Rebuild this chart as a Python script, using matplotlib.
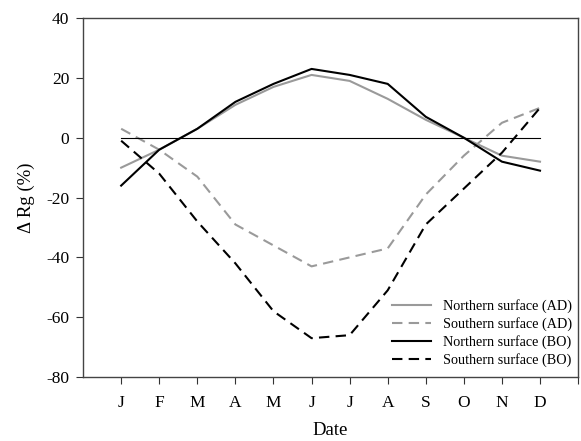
import numpy as np
import matplotlib.pyplot as plt

plt.rcParams['font.family'] = ['Liberation Serif', 'DejaVu Serif']
plt.rcParams['axes.unicode_minus'] = False

months = ['J', 'F', 'M', 'A', 'M', 'J', 'J', 'A', 'S', 'O', 'N', 'D']
north_ad = [-10, -4, 3, 11, 17, 21, 19, 13, 6, 0, -6, -8]
south_ad = [3, -4, -13, -29, -36, -43, -40, -37, -19, -6, 5, 10]
north_bo = [-16, -4, 3, 12, 18, 23, 21, 18, 7, 0, -8, -11]
south_bo = [-1, -12, -28, -42, -58, -67, -66, -51, -29, -17, -5, 10]

x = np.arange(1, 13)

fig = plt.figure(figsize=(5.81, 4.41), dpi=100)
ax = fig.add_axes([0.143, 0.145, 0.852, 0.814])

gray = '#9a9a9a'
ax.plot(x, north_ad, color=gray, lw=1.5, label='Northern surface (AD)')
ax.plot(x, south_ad, color=gray, lw=1.5, ls=(0, (5, 3)), label='Southern surface (AD)')
ax.plot(x, north_bo, color='black', lw=1.5, label='Northern surface (BO)')
ax.plot(x, south_bo, color='black', lw=1.5, ls=(0, (5, 3)), label='Southern surface (BO)')
ax.plot([1, 12], [0, 0], color='black', lw=0.8)

ax.set_xlim(0, 13)
ax.set_ylim(-80, 40)
ax.set_xticks(list(x) + [13])
ax.set_xticklabels(months + [''])
ax.set_yticks(np.arange(-80, 41, 20))
ax.tick_params(direction='out', length=5, labelsize=12.5, colors='#333333', labelcolor='black')
ax.tick_params(axis='x', pad=8)
ax.tick_params(axis='y', pad=5)
for s in ax.spines.values():
    s.set_color('#444444')
    s.set_linewidth(1.0)

ax.set_xlabel('Date', fontsize=13.5, labelpad=8)
ax.set_ylabel('Δ Rg (%)', fontsize=13.5, labelpad=8)

ax.legend(loc='lower right', frameon=False, fontsize=10.2, handlelength=2.7,
          labelspacing=0.28, borderaxespad=0.2, handletextpad=0.9,
          borderpad=0.2, bbox_to_anchor=(1.0, 0.012))

fig.savefig('out.png', dpi=100)
